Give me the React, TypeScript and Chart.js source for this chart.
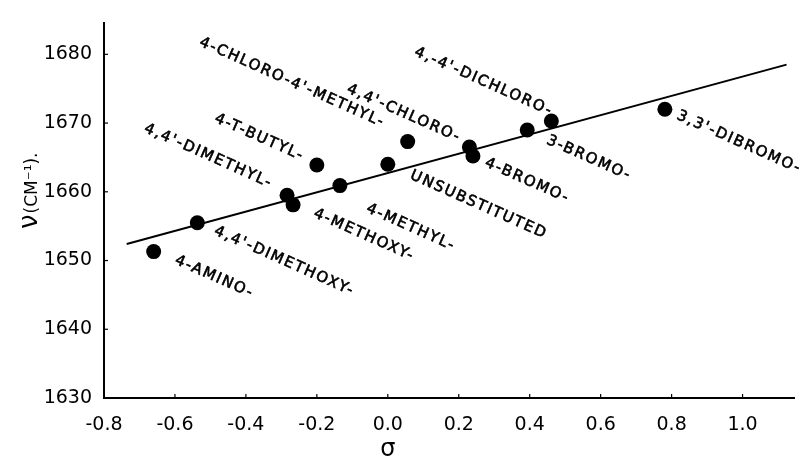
import React, { useEffect, useRef } from "react";
import { Chart, registerables } from "chart.js";

Chart.register(...registerables);

// Substituent constant (sigma) and carbonyl frequency (cm-1)
const sigmaValues = [-0.66, -0.537, -0.284, -0.267, -0.2, -0.135, 0.0, 0.056, 0.23, 0.24, 0.393, 0.461, 0.781];
const nuValues = [1651.3, 1655.5, 1659.5, 1658.1, 1663.9, 1660.9, 1664.0, 1667.3, 1666.5, 1665.2, 1669.0, 1670.3, 1672.0];

// Regression line end points
const lineSigma = [-0.736, 1.124];
const lineNu = [1652.4, 1678.5];

// Compound labels and their centre anchors (data units)
const labelTexts = [
  "4-CHLORO-4'-METHYL-",
  "4,4'-CHLORO-",
  "4,-4'-DICHLORO-",
  "4-T-BUTYL-",
  "4,4'-DIMETHYL-",
  "4-METHOXY-",
  "4-METHYL-",
  "UNSUBSTITUTED",
  "4-BROMO-",
  "3-BROMO-",
  "3,3'-DIBROMO-",
  "4,4'-DIMETHOXY-",
  "4-AMINO-",
];
const labelSigma = [-0.27, 0.045, 0.27, -0.362, -0.506, -0.067, 0.065, 0.256, 0.393, 0.567, 0.99, -0.292, -0.489];
const labelNu = [1675.9, 1671.4, 1676.0, 1667.9, 1665.2, 1653.7, 1654.8, 1658.1, 1661.6, 1664.9, 1667.2, 1649.9, 1647.6];

const xTickValues = [-0.8, -0.6, -0.4, -0.2, 0.0, 0.2, 0.4, 0.6, 0.8, 1.0];
const yTickValues = [1630, 1640, 1650, 1660, 1670, 1680];

const X_MIN = -0.8;
const X_MAX = 1.145;
const Y_MIN = 1630;
const Y_MAX = 1684.5;

const annotPlugin = {
  id: "annot",
  afterDatasetsDraw(chart: any) {
    const ctx = chart.ctx;
    const xs = chart.scales.x;
    const ys = chart.scales.y;
    const area = chart.chartArea;
    ctx.save();
    // inward tick marks
    ctx.strokeStyle = "#000";
    ctx.lineWidth = 1.2;
    xTickValues.forEach((v) => {
      const px = xs.getPixelForValue(v);
      ctx.beginPath();
      ctx.moveTo(px, area.bottom);
      ctx.lineTo(px, area.bottom - 4);
      ctx.stroke();
    });
    yTickValues.forEach((v) => {
      const py = ys.getPixelForValue(v);
      ctx.beginPath();
      ctx.moveTo(area.left, py);
      ctx.lineTo(area.left + 4, py);
      ctx.stroke();
    });
    // compound labels
    ctx.fillStyle = "#000";
    ctx.strokeStyle = "#000";
    ctx.lineWidth = 0.6;
    ctx.lineJoin = "round";
    ctx.font = "15px 'DejaVu Sans'";
    (ctx as any).letterSpacing = "1.7px";
    ctx.textAlign = "center";
    ctx.textBaseline = "middle";
    labelTexts.forEach((t, i) => {
      const px = xs.getPixelForValue(labelSigma[i]);
      const py = ys.getPixelForValue(labelNu[i]);
      ctx.save();
      ctx.translate(px, py);
      ctx.rotate((24 * Math.PI) / 180);
      ctx.fillText(t, 0, 0);
      ctx.strokeText(t, 0, 0);
      ctx.restore();
    });
    (ctx as any).letterSpacing = "0px";
    // y axis title
    ctx.save();
    ctx.translate(37, 229);
    ctx.rotate(-Math.PI / 2);
    ctx.textAlign = "left";
    ctx.textBaseline = "alphabetic";
    ctx.font = "26px 'DejaVu Sans'";
    ctx.fillText("ν", 0, 0);
    const w = ctx.measureText("ν").width;
    ctx.font = "17px 'DejaVu Sans'";
    ctx.fillText("(CM⁻¹).", w + 1, 0);
    ctx.restore();
    // x axis title
    ctx.font = "24px 'DejaVu Sans'";
    ctx.textAlign = "center";
    ctx.textBaseline = "middle";
    ctx.fillText("σ", xs.getPixelForValue(0), 450);
    ctx.restore();
  },
};

export default function App() {
  const ref = useRef<HTMLCanvasElement | null>(null);
  useEffect(() => {
    if (!ref.current) return;
    const points = sigmaValues.map((s, i) => ({ x: s, y: nuValues[i] }));
    const line = lineSigma.map((s, i) => ({ x: s, y: lineNu[i] }));
    const chart = new Chart(ref.current, {
      type: "scatter",
      data: {
        datasets: [
          {
            data: line,
            showLine: true,
            borderColor: "#000",
            borderWidth: 2,
            pointRadius: 0,
            fill: false,
          },
          {
            data: points,
            backgroundColor: "#000",
            borderColor: "#000",
            pointRadius: 7.5,
            pointHoverRadius: 7.5,
            borderWidth: 0,
          },
        ],
      },
      options: {
        animation: false,
        responsive: false,
        events: [],
        layout: { padding: { top: 13, right: 9, left: 0, bottom: 0 } },
        plugins: { legend: { display: false }, tooltip: { enabled: false } },
        scales: {
          x: {
            type: "linear",
            min: X_MIN,
            max: X_MAX,
            grid: { display: false, drawTicks: false },
            border: { display: true, color: "#000", width: 2 },
            afterBuildTicks: (scale: any) => {
              scale.ticks = xTickValues.map((v) => ({ value: v }));
            },
            afterFit: (scale: any) => {
              scale.height = 64;
            },
            ticks: {
              color: "#000",
              padding: 16,
              maxRotation: 0,
              autoSkip: false,
              font: { family: "'DejaVu Sans'", size: 19 },
              callback: (v: any) => Number(v).toFixed(1),
            },
          },
          y: {
            type: "linear",
            min: Y_MIN,
            max: Y_MAX,
            grid: { display: false, drawTicks: false },
            border: { display: true, color: "#000", width: 2 },
            afterBuildTicks: (scale: any) => {
              scale.ticks = yTickValues.map((v) => ({ value: v }));
            },
            afterFit: (scale: any) => {
              scale.width = 104;
            },
            ticks: {
              color: "#000",
              padding: 12,
              autoSkip: false,
              font: { family: "'DejaVu Sans'", size: 19 },
              callback: (v: any) => String(v),
            },
          },
        },
      },
      plugins: [annotPlugin],
    });
    return () => chart.destroy();
  }, []);
  return (
    <div style={{ position: "fixed", left: 0, top: 0, width: 803, height: 462, background: "#fff" }}>
      <canvas ref={ref} width={803} height={462} style={{ width: 803, height: 462, display: "block" }} />
    </div>
  );
}
